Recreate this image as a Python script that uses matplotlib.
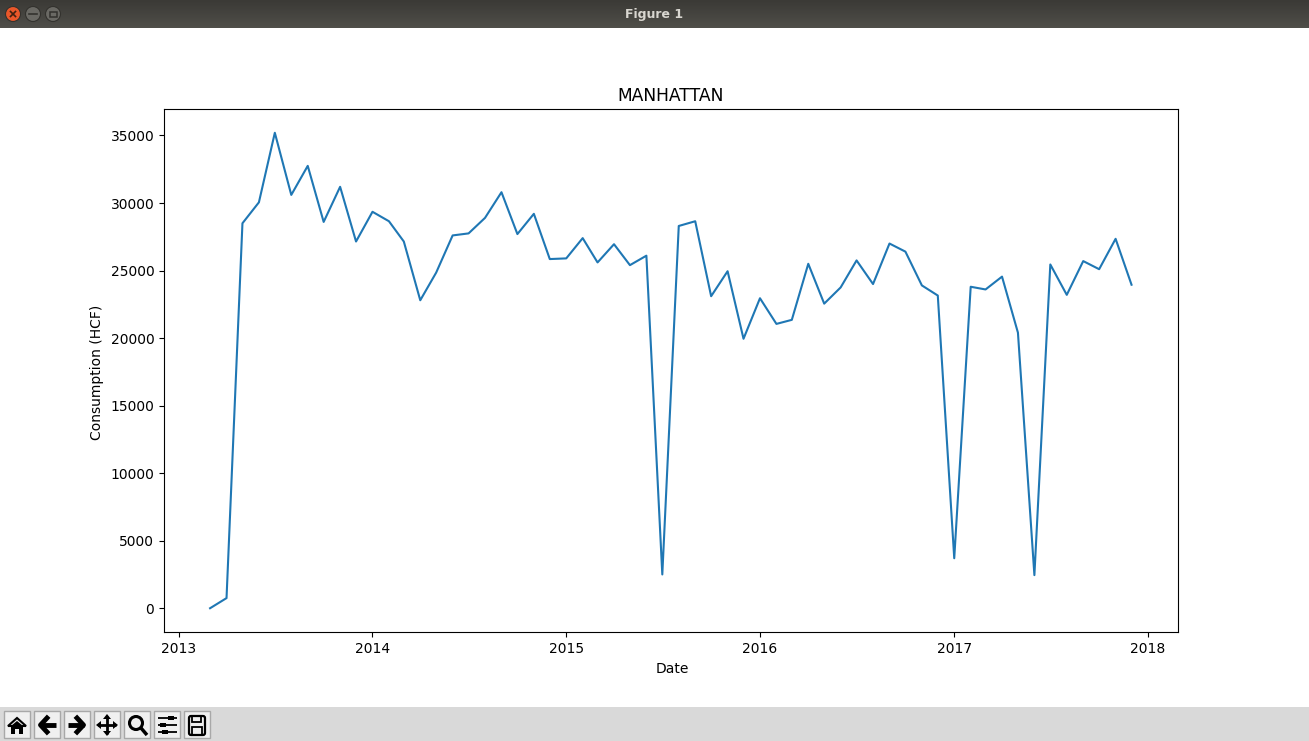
"""Monthly Manhattan consumption, drawn inside a copy of the old TkAgg/GTK window."""

import matplotlib

matplotlib.use("Agg")

import matplotlib.dates as mdates
import matplotlib.pyplot as plt
import numpy as np
import pandas as pd
from matplotlib.patches import Circle, FancyBboxPatch, Polygon, Rectangle

WIDTH, HEIGHT = 1309, 741

first_month = "2013-03-01"
values_2013 = [0, 750, 28500, 30050, 35200, 30600, 32750, 28600, 31200, 27150]
values_2014 = [29350, 28650, 27150, 22800, 24850, 27600, 27750, 28900, 30800, 27700, 29200, 25850]
values_2015 = [25900, 27400, 25600, 26950, 25400, 26100, 2500, 28300, 28650, 23100, 24950, 19950]
values_2016 = [22950, 21050, 21350, 25500, 22550, 23750, 25750, 24000, 27000, 26400, 23900, 23150]
values_2017 = [3700, 23800, 23600, 24550, 20400, 2450, 25450, 23200, 25700, 25100, 27350, 23950]
consumption = values_2013 + values_2014 + values_2015 + values_2016 + values_2017
dates = pd.date_range(first_month, periods=len(consumption), freq="MS")


def draw_title_bar(ov):
    # vertical gradient of the window title bar
    grad = np.linspace(0, 1, 28).reshape(-1, 1)
    ov.imshow(grad, extent=(0, WIDTH, 28, 0), aspect="auto", zorder=1,
              cmap=matplotlib.colors.LinearSegmentedColormap.from_list("bar", ["#3b3a36", "#4f4e49"]))
    ov.text(WIDTH / 2, 14.8, "Figure 1", color="#d8d6d0", fontsize=9, fontweight="bold",
            ha="center", va="center", zorder=3)
    for x, col in [(13, "#e9572a"), (33, "#6a6964"), (53, "#6a6964")]:
        ov.add_patch(Circle((x, 14), 7.5, fc=col, ec="#33322e", lw=0.8, zorder=3))
    ov.plot([10.5, 15.5], [11.5, 16.5], color="#40200f", lw=1.2, zorder=4)
    ov.plot([10.5, 15.5], [16.5, 11.5], color="#40200f", lw=1.2, zorder=4)
    ov.plot([29, 37], [14, 14], color="#33322e", lw=1.2, zorder=4)
    ov.add_patch(Rectangle((49.5, 11.5), 7, 5, fc="none", ec="#33322e", lw=1.1, zorder=4))


def draw_toolbar(ov):
    ov.add_patch(Rectangle((0, 707), WIDTH, 34, fc="#d9d9d9", ec="none", zorder=1))
    for i in range(7):
        ov.add_patch(Rectangle((4 + 30 * i, 711), 26, 27, fc="#f0f0f0", ec="#a8a8a8", lw=1, zorder=2))
    k = dict(color="black", zorder=4, solid_capstyle="butt")

    # home
    ov.add_patch(Polygon([(8, 726), (17, 718), (26, 726)], fc="none", ec="black", lw=1.5, zorder=4))
    ov.add_patch(Polygon([(11, 726), (17, 721), (23, 726), (23, 734), (19, 734), (19, 729),
                          (15, 729), (15, 734), (11, 734)], fc="black", ec="none", zorder=4))
    # back / forward
    ov.plot([41, 56], [725, 725], lw=3.5, **k)
    ov.plot([47, 40.5, 47], [718, 725, 732], lw=3.5, color="black", zorder=4)
    ov.plot([68, 84], [725, 725], lw=3.5, **k)
    ov.plot([77, 83.5, 77], [718, 725, 732], lw=3.5, color="black", zorder=4)
    # move
    ov.plot([98, 116], [725, 725], lw=2, **k)
    ov.plot([107, 107], [716, 734], lw=2, **k)
    for tri in ([(96, 725), (101, 721), (101, 729)], [(118, 725), (113, 721), (113, 729)],
                [(107, 714), (103, 719), (111, 719)], [(107, 736), (103, 731), (111, 731)]):
        ov.add_patch(Polygon(tri, fc="black", ec="none", zorder=4))
    # zoom
    ov.add_patch(Circle((136, 723), 6.5, fc="none", ec="black", lw=2.2, zorder=4))
    ov.plot([141, 147], [728, 735], lw=2.5, **k)
    # sliders
    for y, x in [(718, 170), (725, 162), (732, 164)]:
        ov.plot([158, 177], [y, y], lw=1.3, **k)
        ov.add_patch(Rectangle((x - 2.5, y - 2), 6, 4, fc="black", ec="none", zorder=4))
    # save
    ov.add_patch(FancyBboxPatch((189, 716), 16, 19, boxstyle="round,pad=0,rounding_size=2",
                                fc="none", ec="black", lw=1.6, zorder=4))
    ov.add_patch(Rectangle((192, 716), 9, 6, fc="none", ec="black", lw=1.3, zorder=4))
    ov.add_patch(Rectangle((192, 727), 10, 8, fc="none", ec="black", lw=1.3, zorder=4))


fig = plt.figure(figsize=(WIDTH / 100, HEIGHT / 100), dpi=100, facecolor="white")

overlay = fig.add_axes([0, 0, 1, 1], zorder=0)
overlay.set_axis_off()
draw_title_bar(overlay)
draw_toolbar(overlay)
overlay.set_xlim(0, WIDTH)
overlay.set_ylim(HEIGHT, 0)

ax = fig.add_axes([164 / WIDTH, 1 - 632 / HEIGHT, (1177.6 - 164) / WIDTH, (632 - 109) / HEIGHT], zorder=1)
ax.plot(dates, consumption, color="#1f77b4", linewidth=1.5)
ax.xaxis.set_major_locator(mdates.YearLocator())
ax.xaxis.set_major_formatter(mdates.DateFormatter("%Y"))
ax.set_title("MANHATTAN", fontsize=12.3)
ax.set_xlabel("Date", labelpad=4.7, x=0.501)
ax.set_ylabel("Consumption (HCF)", labelpad=4.7, y=0.497)

fig.savefig("out.png", dpi=100)
plt.close(fig)
